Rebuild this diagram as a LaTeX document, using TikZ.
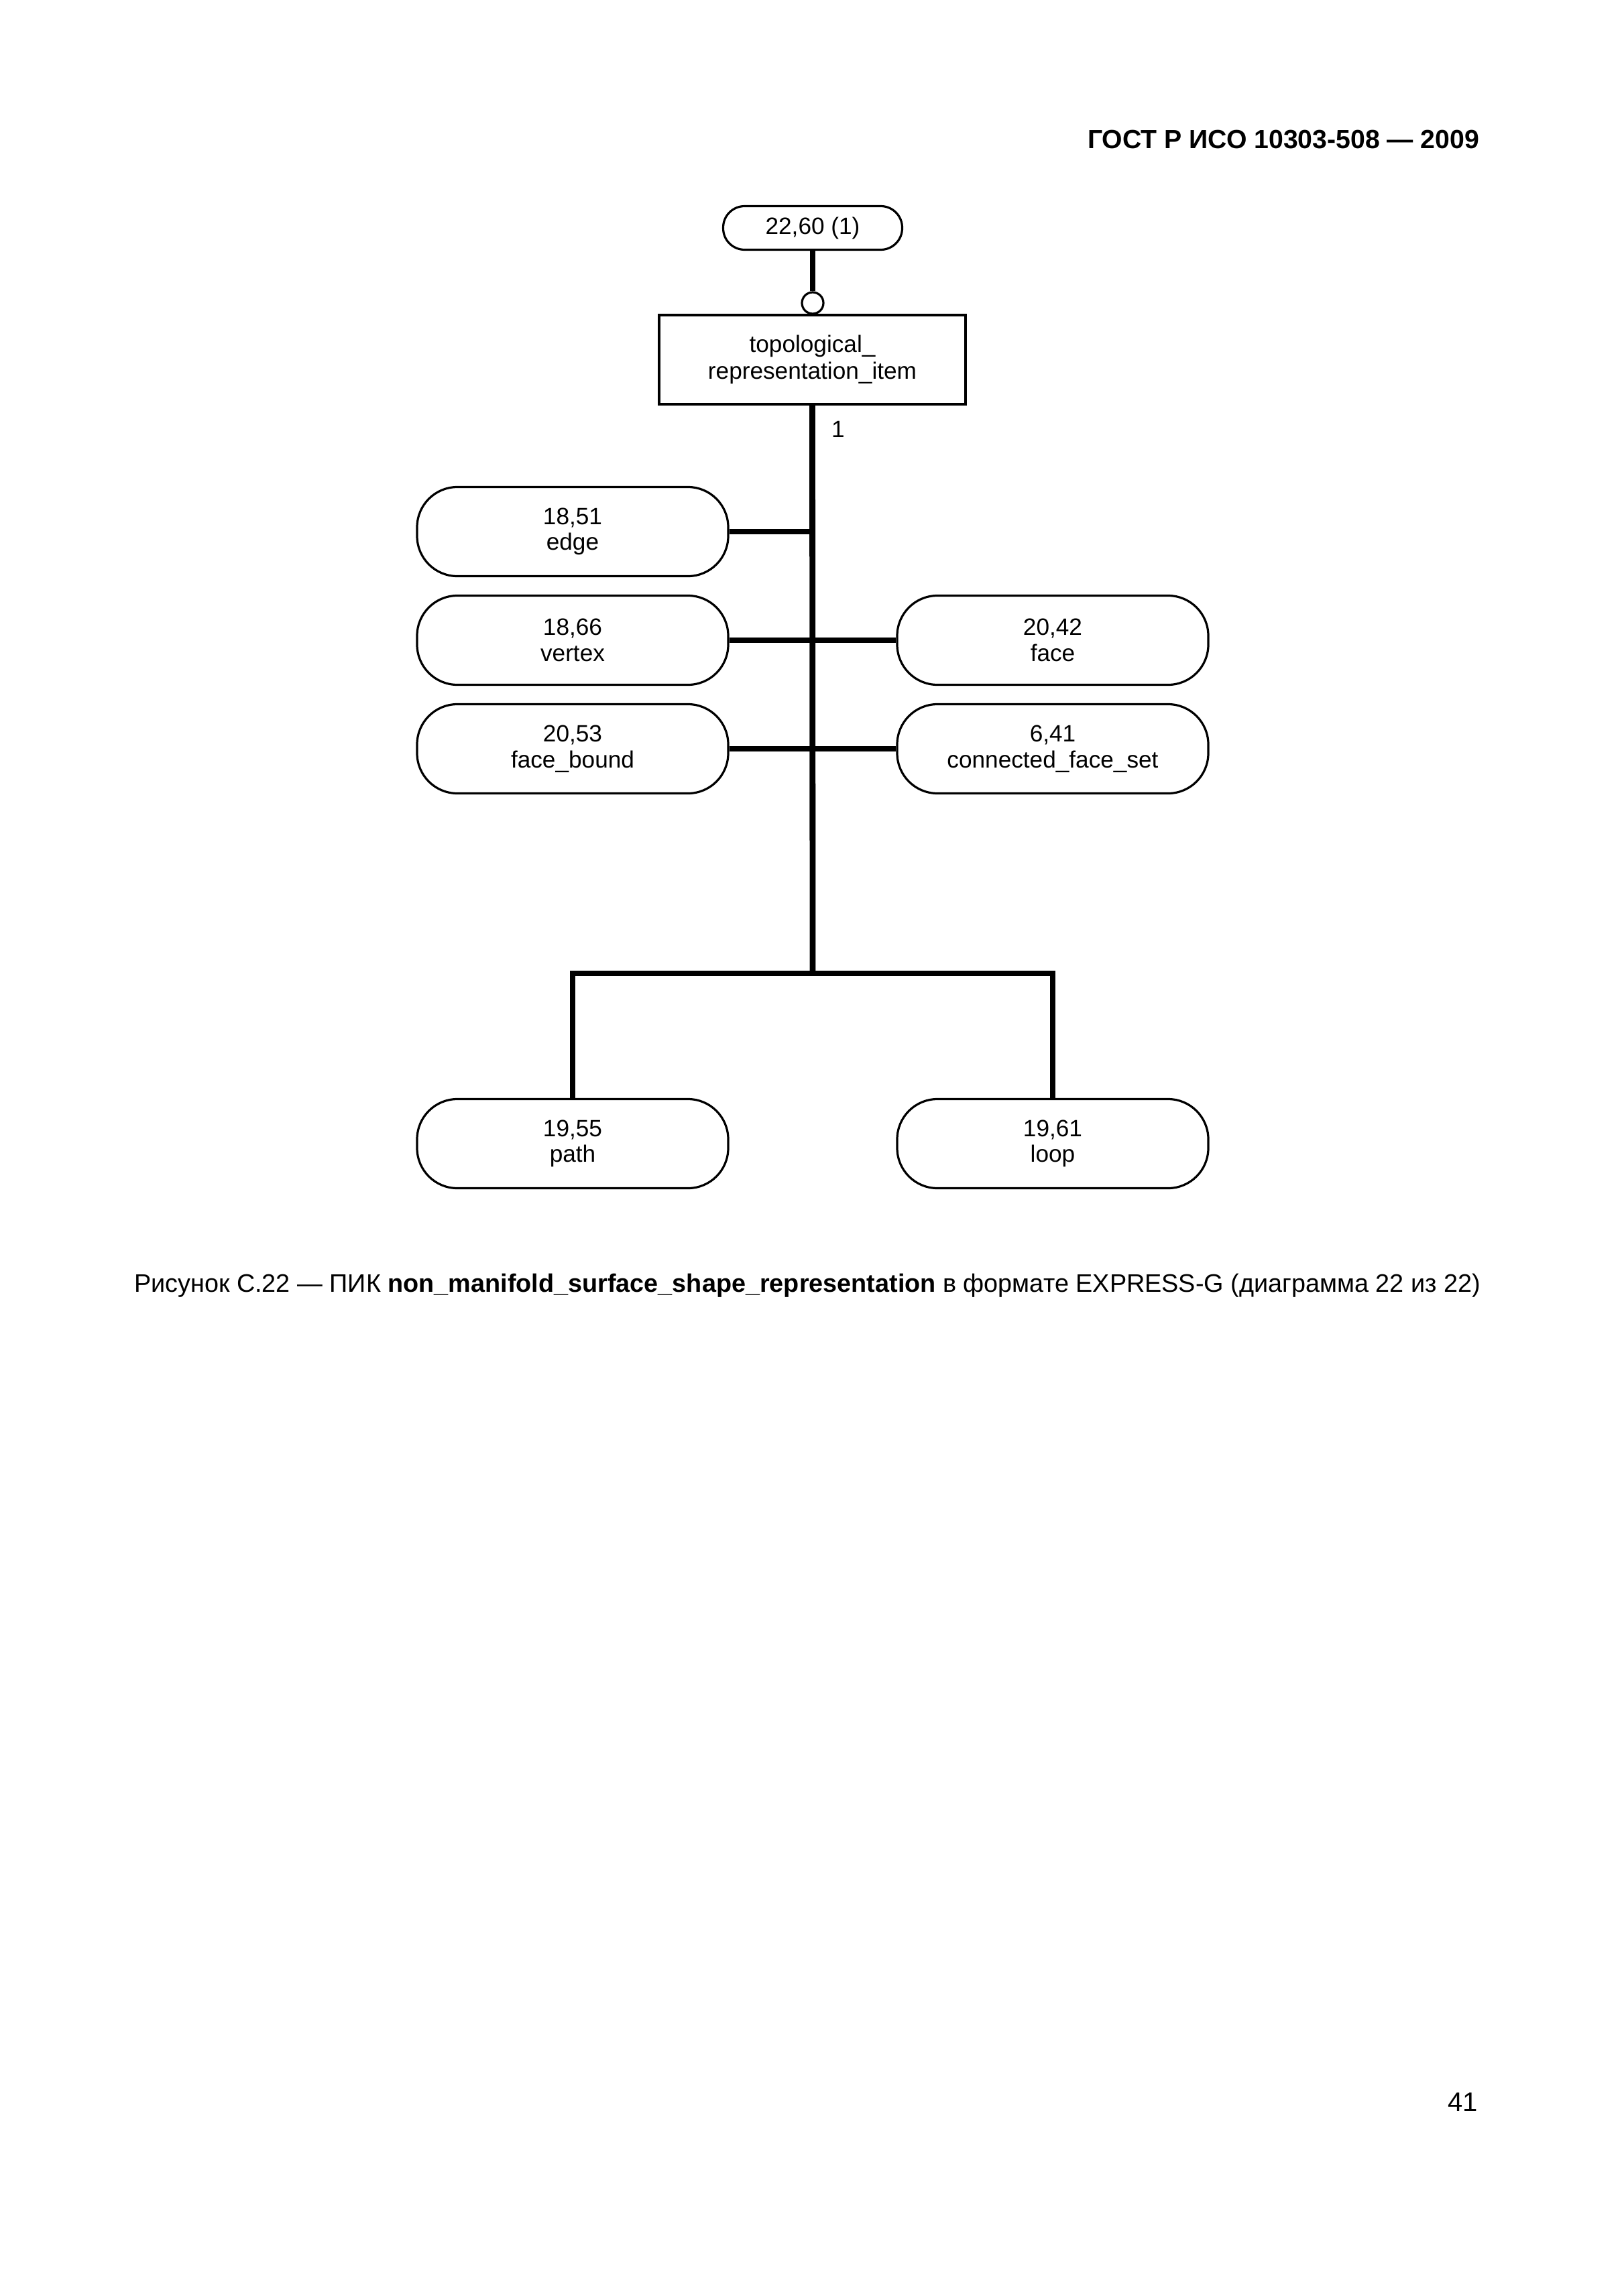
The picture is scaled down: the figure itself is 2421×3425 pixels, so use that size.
\documentclass[tikz,border=0pt]{standalone}
\usepackage{fontspec}
\setmainfont{Liberation Sans}
\begin{document}
\begin{tikzpicture}[x=0.25pt,y=-0.25pt,
  entity/.style={draw,line width=0.8pt,rounded corners=15pt,minimum width=116pt,minimum height=33.25pt,inner sep=0pt,align=center,font=\fontsize{8.8}{9.6}\selectfont},
  refbox/.style={draw,line width=0.8pt,rounded corners=8pt,minimum width=66.75pt,minimum height=16.25pt,inner sep=0pt,align=center,font=\fontsize{8.8}{9.6}\selectfont},
  rectbox/.style={draw,line width=1pt,minimum width=114.25pt,minimum height=33.25pt,inner sep=0pt,align=center,font=\fontsize{8.8}{10}\selectfont},
  conn/.style={line width=2.2pt,line join=miter},
  ring/.style={draw,circle,line width=0.8pt,minimum size=8pt,inner sep=0pt,fill=white}
]
\useasboundingbox (0,0) rectangle (2421,3425);
% header
\node[anchor=east,inner sep=0pt,font=\fontsize{9.8}{12}\selectfont\bfseries] (hdr) at (2207,208) {ГОСТ Р ИСО 10303-508 — 2009};
% nodes
\node[refbox] (ref) at (1212,340) {22,60 (1)};
\node[rectbox] (tri) at (1211.5,536.5) {topological\_\\representation\_item};
\node[ring] (circ) at (1212,452) {};
\node[entity] (edge) at (854,793) {18,51\\edge};
\node[entity] (vertex) at (854,955) {18,66\\vertex};
\node[entity] (fbound) at (854,1117) {20,53\\face\_bound};
\node[entity] (face) at (1570,955) {20,42\\face};
\node[entity] (cfs) at (1570,1117) {6,41\\connected\_face\_set};
\node[entity] (path) at (854,1706) {19,55\\path};
\node[entity] (loop) at (1570,1706) {19,61\\loop};
\coordinate (bus) at (1212,1452);
\node[font=\fontsize{8.8}{10}\selectfont] (one) at (1250,640) {1};
% connectors
\draw[conn] (ref.south) -- (circ.north);
\draw[conn] (tri.south) -- (bus);
\draw[conn] (edge.east) -- (edge.east -| tri.south);
\draw[conn] (vertex.east) -- (face.west);
\draw[conn] (fbound.east) -- (cfs.west);
\draw[conn] (path.north) |- (bus) -| (loop.north);
% caption
\node[inner sep=0pt,font=\fontsize{9.45}{12}\selectfont] (cap) at (1204,1918) {Рисунок С.22 — ПИК \textbf{non\_manifold\_surface\_shape\_representation} в формате EXPRESS-G (диаграмма 22 из 22)};
\node[anchor=east,inner sep=0pt,font=\fontsize{10}{12}\selectfont] (pg) at (2205,3136) {41};
\end{tikzpicture}
\end{document}
